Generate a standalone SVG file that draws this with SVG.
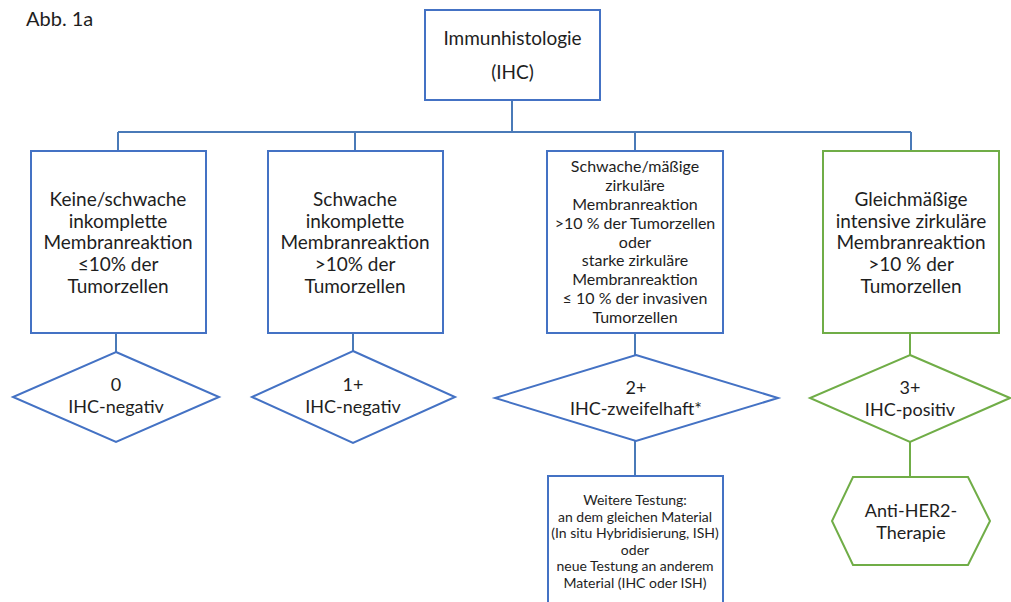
<svg xmlns="http://www.w3.org/2000/svg" width="1011" height="602" viewBox="0 0 1011 602">
<style>
  .b{fill:#fff;stroke:#4472C4;stroke-width:2}
  .g{fill:#fff;stroke:#70AD47;stroke-width:2}
  .cb{stroke:#4a7ab8;stroke-width:2;fill:none}
  .cg{stroke:#70AD47;stroke-width:2;fill:none}
  text{font-family:Lato,"Open Sans","Liberation Sans",sans-serif;fill:#1e1e1e;text-anchor:middle}
  .t19{font-size:19px}
  .t18{font-size:18px}
  .t16{font-size:16px}
  .t14{font-size:14px}
</style>
<rect width="1011" height="602" fill="#fff"/>
<text x="26" y="26" style="text-anchor:start;font-size:20px">Abb. 1a</text>
<g id="connectors">
  <path class="cb" d="M512 100V132M118 132H911M118 132V151M355 132V151M635 132V151M911 132V151"/>
  <path class="cb" d="M116 333V352M353 333V351M635 333V355M635 441V476"/>
  <path class="cg" d="M910 333V355M910 442V477"/>
</g>
<g id="ihc">
  <rect class="b" x="425" y="10" width="175" height="90"/>
  <text class="t19" x="512.5" y="45">Immunhistologie</text>
  <text class="t19" x="512.5" y="79">(IHC)</text>
</g>
<g id="box0">
  <rect class="b" x="31" y="151" width="175" height="182"/>
  <text class="t19" x="118"><tspan x="118" y="206">Keine/schwache</tspan><tspan x="118" y="228">inkomplette</tspan><tspan x="118" y="249">Membranreaktion</tspan><tspan x="118" y="271">≤10% der</tspan><tspan x="118" y="293">Tumorzellen</tspan></text>
</g>
<g id="box1">
  <rect class="b" x="268" y="151" width="175" height="182"/>
  <text class="t19" x="355"><tspan x="355" y="206">Schwache</tspan><tspan x="355" y="228">inkomplette</tspan><tspan x="355" y="249">Membranreaktion</tspan><tspan x="355" y="271">&gt;10% der</tspan><tspan x="355" y="293">Tumorzellen</tspan></text>
</g>
<g id="box2">
  <rect class="b" x="547" y="151" width="176" height="182"/>
  <text class="t16" x="635"><tspan x="635" y="172">Schwache/mäßige</tspan><tspan x="635" y="191">zirkuläre</tspan><tspan x="635" y="210">Membranreaktion</tspan><tspan x="635" y="229">&gt;10 % der Tumorzellen</tspan><tspan x="635" y="248">oder</tspan><tspan x="635" y="266">starke zirkuläre</tspan><tspan x="635" y="285">Membranreaktion</tspan><tspan x="635" y="304">≤ 10 % der invasiven</tspan><tspan x="635" y="323">Tumorzellen</tspan></text>
</g>
<g id="box3">
  <rect class="g" x="823" y="151" width="176" height="182"/>
  <text class="t19" x="911"><tspan x="911" y="206">Gleichmäßige</tspan><tspan x="911" y="228">intensive zirkuläre</tspan><tspan x="911" y="249">Membranreaktion</tspan><tspan x="911" y="271">&gt;10 % der</tspan><tspan x="911" y="293">Tumorzellen</tspan></text>
</g>
<g id="d0">
  <polygon class="b" points="116,352 219,397 116,442 13,397"/>
  <text class="t18" x="116" y="391">0</text>
  <text class="t18" x="116" y="413">IHC-negativ</text>
</g>
<g id="d1">
  <polygon class="b" points="353,351 455,397 353,443 252,397"/>
  <text class="t18" x="353" y="391">1+</text>
  <text class="t18" x="353" y="413">IHC-negativ</text>
</g>
<g id="d2">
  <polygon class="b" points="636,355 778,398 636,441 495,398"/>
  <text class="t18" x="636" y="394">2+</text>
  <text class="t18" x="636" y="415">IHC-zweifelhaft*</text>
</g>
<g id="d3">
  <polygon class="g" points="910,355 1010,398 910,442 810,398"/>
  <text class="t18" x="910" y="394">3+</text>
  <text class="t18" x="910" y="416">IHC-positiv</text>
</g>
<g id="further">
  <rect class="b" x="548" y="476" width="175" height="130"/>
  <text class="t14" x="635"><tspan x="635" y="505">Weitere Testung:</tspan><tspan x="635" y="521.5">an dem gleichen Material</tspan><tspan x="635" y="538">(In situ Hybridisierung, ISH)</tspan><tspan x="635" y="554.5">oder</tspan><tspan x="635" y="571">neue Testung an anderem</tspan><tspan x="635" y="587.5">Material (IHC oder ISH)</tspan></text>
</g>
<g id="therapy">
  <polygon class="g" points="853,477 968,477 990,521 968,565 853,565 832,521"/>
  <text class="t18" x="911" y="517">Anti-HER2-</text>
  <text class="t18" x="911" y="539">Therapie</text>
</g>
</svg>
